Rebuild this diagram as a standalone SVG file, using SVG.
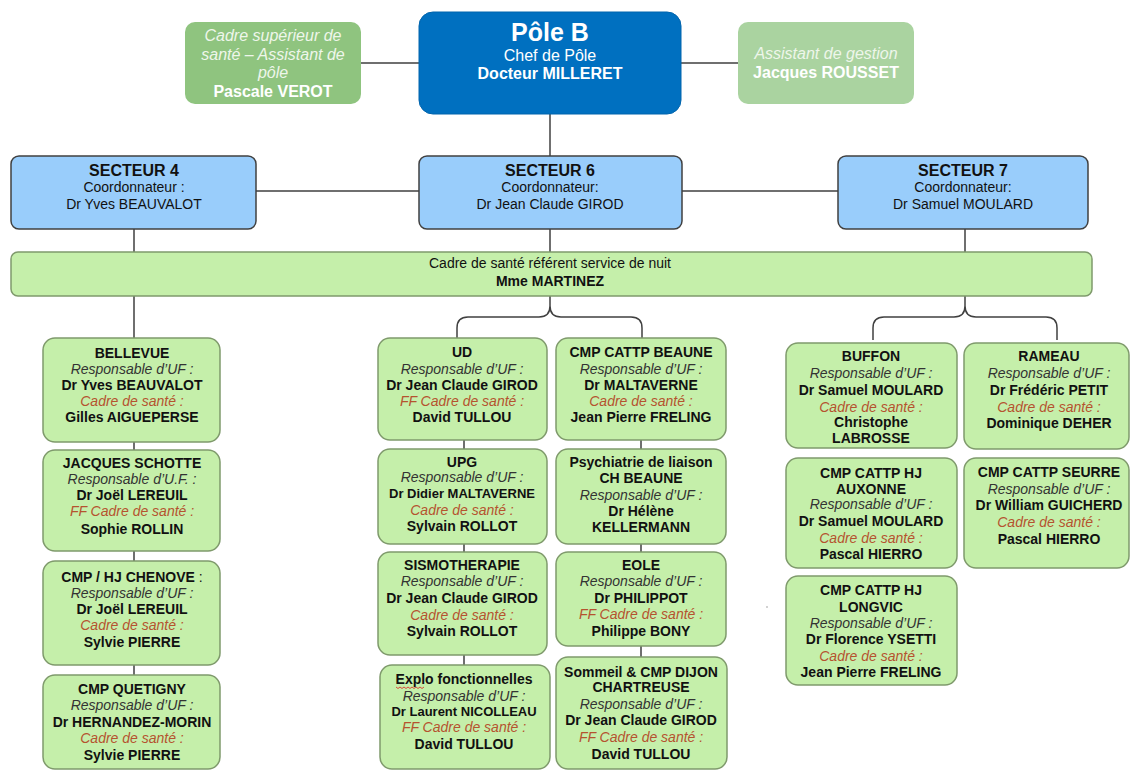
<svg xmlns="http://www.w3.org/2000/svg" width="1130" height="771" viewBox="0 0 1130 771">
  <style>
    text { font-family: "Liberation Sans", Arial, sans-serif; font-size: 14px; text-anchor: middle; fill: #111; }
    .b { font-weight: bold; }
    .s { font-size: 13px; }
    .i { font-style: italic; fill: #333; }
    .c { font-style: italic; fill: #b5532f; }
    .unit { fill: #c5efaa; stroke: #7f9a6c; stroke-width: 1.5; }
    .sect { fill: #99cdfb; stroke: #404040; stroke-width: 1.5; }
    .top { font-size: 16px; fill: #fff; }
    .topi { font-size: 16px; font-style: italic; fill: #eef6ea; }
    .conn { fill: none; stroke: #404040; stroke-width: 1.5; }
  </style>

  <!-- connectors -->
  <g id="connectors" class="conn">
    <path d="M361,63 H419 M681,63 H738"/>
    <path d="M550,113 V156"/>
    <path d="M256,191 H419 M682,191 H838"/>
    <path d="M134,229 V252 M550,229 V252 M965,229 V252"/>
    <path d="M134,296 V338 M134,442 V450 M134,551 V561 M134,665 V675"/>
    <path d="M550,296 V306 Q550,317 539,317 H468 Q457,317 457,328 V338 M550,306 Q550,317 561,317 H631 Q642,317 642,328 V338"/>
    <path d="M464,440 V449 M464,544 V552 M464,655 V665"/>
    <path d="M641,440 V449 M641,544 V552 M641,646 V657"/>
    <path d="M965,296 V306 Q965,317 954,317 H884 Q873,317 873,328 V340 M965,306 Q965,317 976,317 H1046 Q1057,317 1057,328 V340"/>
  </g>

  <!-- top row -->
  <g id="cadre-superieur">
    <rect x="185" y="22" width="176" height="82" rx="10" fill="#8fc47f"/>
    <text class="topi" x="273" y="41">Cadre supérieur de</text>
    <text class="topi" x="273" y="60">santé – Assistant de</text>
    <text class="topi" x="273" y="78">pôle</text>
    <text class="top b" x="273" y="97">Pascale VEROT</text>
  </g>
  <g id="pole-b">
    <rect x="419" y="12" width="262" height="102" rx="14" fill="#0070c0" stroke="#0064ad" stroke-width="1"/>
    <text class="b" x="550" y="41" style="font-size:25px;fill:#fff">Pôle B</text>
    <text class="top" x="550" y="61">Chef de Pôle</text>
    <text class="top b" x="550" y="79">Docteur MILLERET</text>
  </g>
  <g id="assistant-gestion">
    <rect x="738" y="22" width="176" height="82" rx="10" fill="#aad3a0"/>
    <text class="topi" x="826" y="59">Assistant de gestion</text>
    <text class="top b" x="826" y="78">Jacques ROUSSET</text>
  </g>

  <!-- sectors -->
  <g id="secteur-4">
    <rect class="sect" x="11" y="156" width="245" height="73" rx="8"/>
    <text class="b" x="134" y="176" style="font-size:16px">SECTEUR 4</text>
    <text x="134" y="192">Coordonnateur :</text>
    <text x="134" y="209">Dr Yves BEAUVALOT</text>
  </g>
  <g id="secteur-6">
    <rect class="sect" x="419" y="156" width="263" height="73" rx="8"/>
    <text class="b" x="550" y="176" style="font-size:16px">SECTEUR 6</text>
    <text x="550" y="192">Coordonnateur:</text>
    <text x="550" y="209">Dr Jean Claude GIROD</text>
  </g>
  <g id="secteur-7">
    <rect class="sect" x="838" y="156" width="250" height="73" rx="8"/>
    <text class="b" x="963" y="176" style="font-size:16px">SECTEUR 7</text>
    <text x="963" y="192">Coordonnateur:</text>
    <text x="963" y="209">Dr Samuel MOULARD</text>
  </g>

  <!-- night duty -->
  <g id="service-nuit">
    <rect class="unit" x="11" y="252" width="1081" height="44" rx="7"/>
    <text x="550" y="268">Cadre de santé référent service de nuit</text>
    <text class="b" x="550" y="286">Mme MARTINEZ</text>
  </g>

  <!-- sector 4 units -->
  <g id="bellevue">
    <rect class="unit" x="43" y="338" width="177" height="104" rx="12"/>
    <text class="b" x="132" y="357.5">BELLEVUE</text>
    <text class="i" x="132" y="373.5">Responsable d’UF :</text>
    <text class="b" x="132" y="389.5">Dr Yves BEAUVALOT</text>
    <text class="c" x="132" y="405.5">Cadre de santé :</text>
    <text class="b" x="132" y="422">Gilles AIGUEPERSE</text>
  </g>
  <g id="jacques-schotte">
    <rect class="unit" x="43" y="450" width="177" height="101" rx="12"/>
    <text class="b" x="132" y="467.5">JACQUES SCHOTTE</text>
    <text class="i" x="132" y="483.5">Responsable d’U.F. :</text>
    <text class="b" x="132" y="499.5">Dr Joël LEREUIL</text>
    <text class="c" x="132" y="516">FF Cadre de santé :</text>
    <text class="b" x="132" y="534">Sophie ROLLIN</text>
  </g>
  <g id="chenove">
    <rect class="unit" x="43" y="561" width="177" height="104" rx="12"/>
    <text class="b" x="132" y="581.5">CMP / HJ CHENOVE<tspan font-weight="normal"> :</tspan></text>
    <text class="i" x="132" y="597.5">Responsable d’UF :</text>
    <text class="b" x="132" y="613.5">Dr Joël LEREUIL</text>
    <text class="c" x="132" y="630">Cadre de santé :</text>
    <text class="b" x="132" y="647">Sylvie PIERRE</text>
  </g>
  <g id="quetigny">
    <rect class="unit" x="43" y="675" width="177" height="94" rx="12"/>
    <text class="b" x="132" y="693.5">CMP QUETIGNY</text>
    <text class="i" x="132" y="710">Responsable d’UF :</text>
    <text class="b" x="132" y="726.5">Dr HERNANDEZ-MORIN</text>
    <text class="c" x="132" y="743">Cadre de santé :</text>
    <text class="b" x="132" y="760">Sylvie PIERRE</text>
  </g>

  <!-- sector 6 units -->
  <g id="ud">
    <rect class="unit" x="378" y="338" width="169" height="102" rx="12"/>
    <text class="b" x="462" y="357">UD</text>
    <text class="i" x="462" y="374">Responsable d’UF :</text>
    <text class="b" x="462" y="390">Dr Jean Claude GIROD</text>
    <text class="c" x="462" y="406">FF Cadre de santé :</text>
    <text class="b" x="462" y="422">David TULLOU</text>
  </g>
  <g id="cmp-beaune">
    <rect class="unit" x="556" y="338" width="170" height="102" rx="12"/>
    <text class="b" x="641" y="357">CMP CATTP BEAUNE</text>
    <text class="i" x="641" y="374">Responsable d’UF :</text>
    <text class="b" x="641" y="390">Dr MALTAVERNE</text>
    <text class="c" x="641" y="406">Cadre de santé :</text>
    <text class="b" x="641" y="422">Jean Pierre FRELING</text>
  </g>
  <g id="upg">
    <rect class="unit" x="378" y="449" width="169" height="95" rx="12"/>
    <text class="b" x="462" y="467">UPG</text>
    <text class="i" x="462" y="482">Responsable d’UF :</text>
    <text class="b s" x="462" y="498">Dr Didier MALTAVERNE</text>
    <text class="c" x="462" y="515">Cadre de santé :</text>
    <text class="b" x="462" y="531">Sylvain ROLLOT</text>
  </g>
  <g id="psy-liaison">
    <rect class="unit" x="556" y="449" width="170" height="95" rx="12"/>
    <text class="b" x="641" y="467">Psychiatrie de liaison</text>
    <text class="b" x="641" y="483">CH BEAUNE</text>
    <text class="i" x="641" y="500">Responsable d’UF :</text>
    <text class="b" x="641" y="516">Dr Hélène</text>
    <text class="b" x="641" y="532">KELLERMANN</text>
  </g>
  <g id="sismotherapie">
    <rect class="unit" x="378" y="552" width="169" height="103" rx="12"/>
    <text class="b" x="462" y="570">SISMOTHERAPIE</text>
    <text class="i" x="462" y="586">Responsable d’UF :</text>
    <text class="b" x="462" y="603">Dr Jean Claude GIROD</text>
    <text class="c" x="462" y="620">Cadre de santé :</text>
    <text class="b" x="462" y="636">Sylvain ROLLOT</text>
  </g>
  <g id="eole">
    <rect class="unit" x="556" y="552" width="170" height="94" rx="12"/>
    <text class="b" x="641" y="570">EOLE</text>
    <text class="i" x="641" y="586">Responsable d’UF :</text>
    <text class="b" x="641" y="603">Dr PHILIPPOT</text>
    <text class="c" x="641" y="619">FF Cadre de santé :</text>
    <text class="b" x="641" y="636">Philippe BONY</text>
  </g>
  <g id="explo">
    <rect class="unit" x="380" y="665" width="170" height="104" rx="12"/>
    <text class="b" x="464" y="683.5">Explo fonctionnelles</text>
    <path d="M396,687 l2,1.5 l2,-1.5 l2,1.5 l2,-1.5 l2,1.5 l2,-1.5 l2,1.5 l2,-1.5 l2,1.5 l2,-1.5 l2,1.5 l2,-1.5 l2,1.5 l2,-1.5" fill="none" stroke="#e02020" stroke-width="0.8"/>
    <text class="i" x="464" y="700.5">Responsable d’UF :</text>
    <text class="b s" x="464" y="715.5">Dr Laurent NICOLLEAU</text>
    <text class="c" x="464" y="732">FF Cadre de santé :</text>
    <text class="b" x="464" y="748.5">David TULLOU</text>
  </g>
  <g id="sommeil">
    <rect class="unit" x="556" y="657" width="171" height="112" rx="12"/>
    <text class="b" x="641" y="676.5">Sommeil &amp; CMP DIJON</text>
    <text class="b" x="641" y="691.5">CHARTREUSE</text>
    <text class="i" x="641" y="708.5">Responsable d’UF :</text>
    <text class="b" x="641" y="725">Dr Jean Claude GIROD</text>
    <text class="c" x="641" y="741.5">FF Cadre de santé :</text>
    <text class="b" x="641" y="758.5">David TULLOU</text>
  </g>

  <!-- sector 7 units -->
  <g id="buffon">
    <rect class="unit" x="786" y="343" width="171" height="105" rx="12"/>
    <text class="b" x="871" y="361">BUFFON</text>
    <text class="i" x="871" y="378">Responsable d’UF :</text>
    <text class="b" x="871" y="394.5">Dr Samuel MOULARD</text>
    <text class="c" x="871" y="411.5">Cadre de santé :</text>
    <text class="b" x="871" y="427">Christophe</text>
    <text class="b" x="871" y="442.5">LABROSSE</text>
  </g>
  <g id="rameau">
    <rect class="unit" x="964" y="343" width="165" height="106" rx="12"/>
    <text class="b" x="1049" y="361">RAMEAU</text>
    <text class="i" x="1049" y="378">Responsable d’UF :</text>
    <text class="b" x="1049" y="394.5">Dr Frédéric PETIT</text>
    <text class="c" x="1049" y="411.5">Cadre de santé :</text>
    <text class="b" x="1049" y="427.5">Dominique DEHER</text>
  </g>
  <g id="auxonne">
    <rect class="unit" x="786" y="458" width="171" height="110" rx="12"/>
    <text class="b" x="871" y="477.5">CMP CATTP HJ</text>
    <text class="b" x="871" y="494">AUXONNE</text>
    <text class="i" x="871" y="509">Responsable d’UF :</text>
    <text class="b" x="871" y="525.5">Dr Samuel MOULARD</text>
    <text class="c" x="871" y="543">Cadre de santé :</text>
    <text class="b" x="871" y="559">Pascal HIERRO</text>
  </g>
  <g id="seurre">
    <rect class="unit" x="964" y="458" width="165" height="110" rx="12"/>
    <text class="b" x="1049" y="476.5">CMP CATTP SEURRE</text>
    <text class="i" x="1049" y="493.5">Responsable d’UF :</text>
    <text class="b" x="1049" y="510">Dr William GUICHERD</text>
    <text class="c" x="1049" y="526.5">Cadre de santé :</text>
    <text class="b" x="1049" y="544">Pascal HIERRO</text>
  </g>
  <g id="longvic">
    <rect class="unit" x="786" y="576" width="171" height="109" rx="12"/>
    <text class="b" x="871" y="595">CMP CATTP HJ</text>
    <text class="b" x="871" y="611.5">LONGVIC</text>
    <text class="i" x="871" y="628">Responsable d’UF :</text>
    <text class="b" x="871" y="644">Dr Florence YSETTI</text>
    <text class="c" x="871" y="660.5">Cadre de santé :</text>
    <text class="b" x="871" y="676.5">Jean Pierre FRELING</text>
  </g>

  <!-- stray mark -->
  <circle cx="767" cy="607" r="0.8" fill="#9a9a9a"/>
</svg>
